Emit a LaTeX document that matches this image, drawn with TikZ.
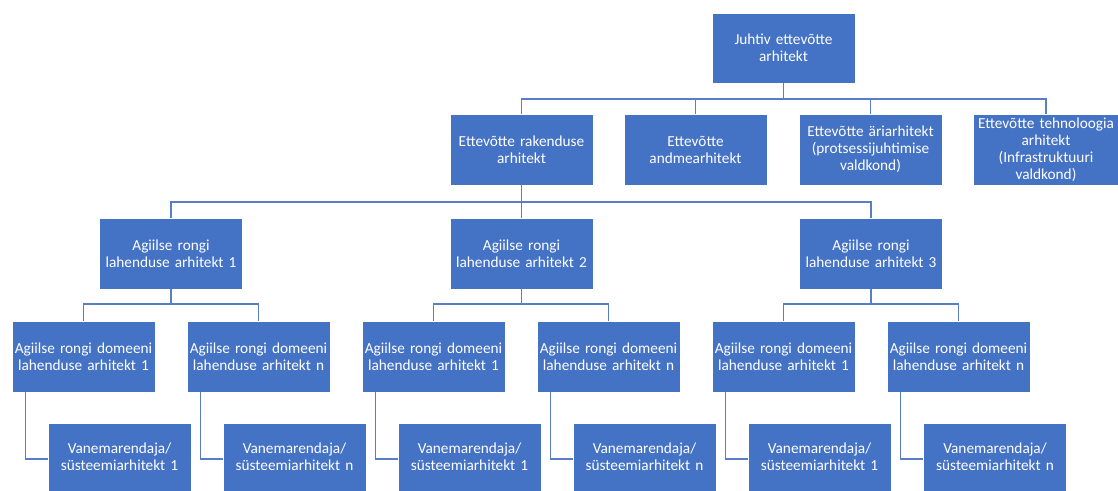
\documentclass[tikz,border=0pt]{standalone}
\usepackage{fontspec}
\setmainfont{Carlito}
\definecolor{boxblue}{HTML}{4472C4}
\definecolor{linkblue}{HTML}{5A7EC6}
\begin{document}
\begin{tikzpicture}[x=1pt,y=-1pt,
  orgbox/.style={rectangle, fill=boxblue, draw=white, line width=0.8pt,
    text=white, align=center, inner sep=0pt,
    minimum width=143pt, minimum height=71pt, text width=143pt,
    font=\fontsize{15.3}{17.1}\selectfont},
  link/.style={draw=linkblue, line width=1.3pt}]
\useasboundingbox (0,0) rectangle (1118,490);
\begin{scope}
\clip (0,0) rectangle (1118,490);

% top level
\node[orgbox, minimum height=70pt] (lead) at (783.5,48) {Juhtiv ettevõtte\\arhitekt};

% enterprise architects
\node[orgbox] (app)  at (521.5,149.5) {Ettevõtte rakenduse\\arhitekt};
\node[orgbox] (data) at (695.5,149.5) {Ettevõtte\\andmearhitekt};
\node[orgbox] (biz)  at (870.5,149.5) {Ettevõtte äriarhitekt\\(protsessijuhtimise\\valdkond)};
\node[orgbox, minimum width=144pt, text width=146pt] (tech) at (1046,149.5) {Ettevõtte tehnoloogia\\arhitekt\\(Infrastruktuuri\\valdkond)};

% agile release train solution architects
\node[orgbox] (art1) at (171,253.5)   {Agiilse rongi\\lahenduse arhitekt 1};
\node[orgbox] (art2) at (521.5,253.5) {Agiilse rongi\\lahenduse arhitekt 2};
\node[orgbox] (art3) at (871,253.5)   {Agiilse rongi\\lahenduse arhitekt 3};

% domain solution architects
\node[orgbox] (d11) at (83.5,356.5)  {Agiilse rongi domeeni\\lahenduse arhitekt 1};
\node[orgbox] (d1n) at (258.5,356.5) {Agiilse rongi domeeni\\lahenduse arhitekt n};
\node[orgbox] (d21) at (433.5,356.5) {Agiilse rongi domeeni\\lahenduse arhitekt 1};
\node[orgbox] (d2n) at (608.5,356.5) {Agiilse rongi domeeni\\lahenduse arhitekt n};
\node[orgbox] (d31) at (783.5,356.5) {Agiilse rongi domeeni\\lahenduse arhitekt 1};
\node[orgbox] (d3n) at (958.5,356.5) {Agiilse rongi domeeni\\lahenduse arhitekt n};

% senior developers / system architects
\node[orgbox, minimum height=68pt] (v11) at (119.5,457) {Vanemarendaja/\\süsteemiarhitekt 1};
\node[orgbox, minimum height=68pt] (v1n) at (294.5,457) {Vanemarendaja/\\süsteemiarhitekt n};
\node[orgbox, minimum height=68pt] (v21) at (469.5,457) {Vanemarendaja/\\süsteemiarhitekt 1};
\node[orgbox, minimum height=68pt] (v2n) at (644.5,457) {Vanemarendaja/\\süsteemiarhitekt n};
\node[orgbox, minimum height=68pt] (v31) at (819.5,457) {Vanemarendaja/\\süsteemiarhitekt 1};
\node[orgbox, minimum height=68pt] (v3n) at (995,457)   {Vanemarendaja/\\süsteemiarhitekt n};

% lead -> enterprise architects
\foreach \c in {app,data,biz,tech}
  \draw[link] (lead.south) -- (lead.south |- 0,99) -| (\c.north);

% application architect -> train architects
\foreach \c in {art1,art2,art3}
  \draw[link] (app.south) -- (app.south |- 0,202) -| (\c.north);

% train architects -> domain architects
\foreach \p/\a/\b in {art1/d11/d1n, art2/d21/d2n, art3/d31/d3n} {
  \draw[link] (\p.south) -- (\p.south |- 0,304) -| (\a.north);
  \draw[link] (\p.south) -- (\p.south |- 0,304) -| (\b.north);
}

% domain architects -> developers
\foreach \d/\v in {d11/v11, d1n/v1n, d21/v21, d2n/v2n, d31/v31, d3n/v3n}
  \draw[link] ([xshift=14pt]\d.south west) |- ([yshift=-2pt]\v.west);
\end{scope}
\end{tikzpicture}
\end{document}
